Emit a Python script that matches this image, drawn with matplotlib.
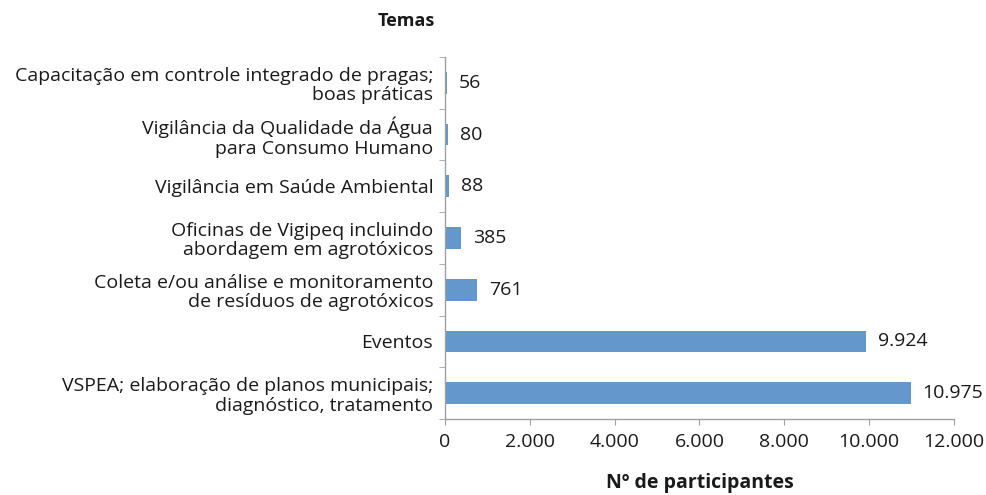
import matplotlib
matplotlib.use("Agg")
import matplotlib.pyplot as plt
from matplotlib.ticker import FuncFormatter, FixedLocator

categories = [
    "VSPEA; elaboração de planos municipais;\ndiagnóstico, tratamento",
    "Eventos",
    "Coleta e/ou análise e monitoramento\nde resíduos de agrotóxicos",
    "Oficinas de Vigipeq incluindo\nabordagem em agrotóxicos",
    "Vigilância em Saúde Ambiental",
    "Vigilância da Qualidade da Água\npara Consumo Humano",
    "Capacitação em controle integrado de pragas;\nboas práticas",
]
values = [10975, 9924, 761, 385, 88, 80, 56]
value_labels = ["10.975", "9.924", "761", "385", "88", "80", "56"]
x_ticks = [0, 2000, 4000, 6000, 8000, 10000, 12000]

plt.rcParams['font.family'] = ['Open Sans', 'DejaVu Sans']
fs = 14

fig = plt.figure(figsize=(9.87, 4.95), dpi=100)
ax = fig.add_axes([445 / 987, 1 - 419 / 495, (954 - 445) / 987, (419 - 57) / 495])

pos = list(range(len(categories)))
ax.barh(pos, values, height=0.42, color='#6497CB')
for p, v, lab in zip(pos, values, value_labels):
    ax.annotate(lab, (v, p), xytext=(8.5, 0), textcoords='offset points',
                va='center', ha='left', fontsize=fs, color='#1a1a1a')

ax.set_xlim(0, 12000)
ax.set_ylim(-0.5, len(categories) - 0.5)
ax.set_yticks(pos)
ax.set_yticklabels(categories, fontsize=fs, linespacing=1.1, color='#1a1a1a')
ax.yaxis.set_minor_locator(FixedLocator([i - 0.5 for i in range(len(categories) + 1)]))
ax.tick_params(axis='y', which='major', length=0, pad=8.5)
ax.tick_params(axis='y', which='minor', length=4, color='#a0a0a0', direction='out')
ax.set_xticks(x_ticks)
ax.xaxis.set_major_formatter(FuncFormatter(lambda v, p: f"{int(v):,}".replace(",", ".")))
ax.tick_params(axis='x', length=4, color='#a0a0a0', labelsize=fs, labelcolor='#1a1a1a', pad=6)

for s in ['top', 'right']:
    ax.spines[s].set_visible(False)
for s in ['left', 'bottom']:
    ax.spines[s].set_color('#a0a0a0')
    ax.spines[s].set_linewidth(1.0)

fig.text(406 / 987, 1 - 21 / 495, "Temas", ha='center', va='center', fontsize=fs - 1, fontweight='bold', color='#1a1a1a')
fig.text(700 / 987, 1 - 483 / 495, "Nº de participantes", ha='center', va='center', fontsize=fs, fontweight='bold', color='#1a1a1a')

fig.savefig("out.png", dpi=100)
